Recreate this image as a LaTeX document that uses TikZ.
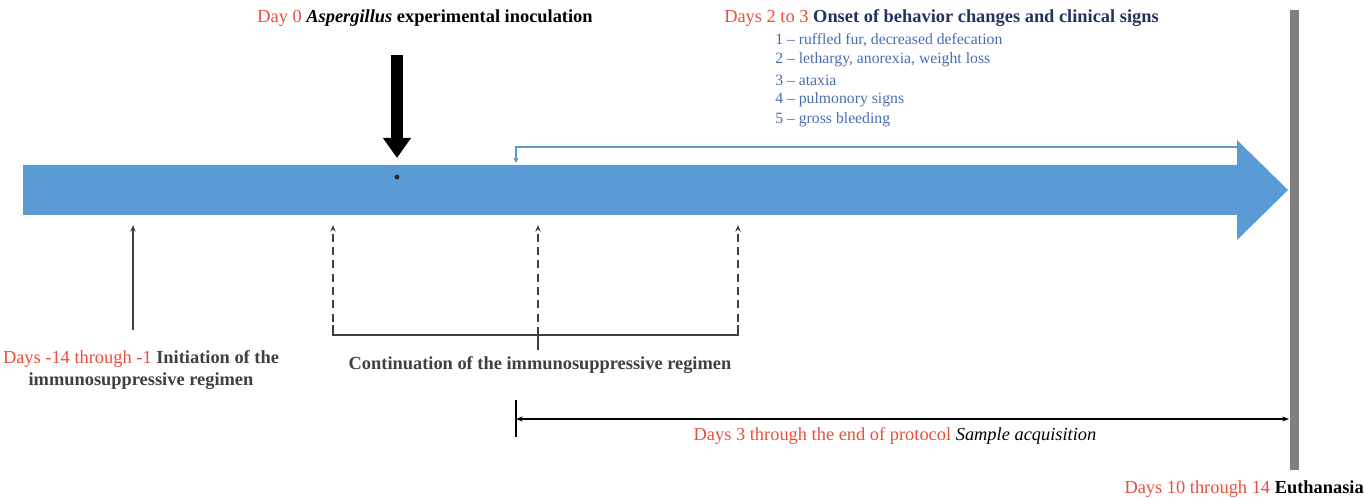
\documentclass[tikz,border=0pt]{standalone}
\usepackage{fontspec}
\setmainfont{Liberation Serif}
\usetikzlibrary{positioning, arrows.meta}

\definecolor{dayred}{HTML}{E8503A}
\definecolor{tlblue}{HTML}{5B9BD5}
\definecolor{signnavy}{HTML}{23325E}
\definecolor{signblue}{HTML}{4A6DB2}
\definecolor{regimen}{HTML}{404040}

\begin{document}
\begin{tikzpicture}[x=0.75pt, y=-0.75pt,
    lbl/.style={inner sep=0pt, font=\fontsize{13.8}{17}\selectfont\bfseries},
    sign/.style={inner sep=0pt, anchor=west, text=signblue, font=\fontsize{11.8}{13}\selectfont},
    dose/.style={-{Stealth[length=5pt,width=4pt]}, line width=1pt, regimen},
    dosedash/.style={dose, dash pattern=on 6pt off 4pt}]

\useasboundingbox (0,0) rectangle (1364,498);

% timeline and end of protocol
\fill[tlblue] (23,165) -- (1237,165) -- (1237,140) -- (1288,190) -- (1237,240)
    -- (1237,215) -- (23,215) -- cycle;
\fill[black!50] (1290,10) rectangle (1299,470);

% day 0
\node[lbl] (day0) at (425,18) {\textcolor{dayred}{\mdseries Day 0} \textit{Aspergillus} experimental inoculation};
\coordinate (inocTop) at (397,55);
\coordinate (inocTip) at (397,158);
\coordinate (inoc) at (397,177);
\draw[line width=9pt, -{Triangle[length=15pt,width=20pt]}] (inocTop) -- (inocTip);
\fill[black!85] (inoc) circle (1.8pt);

% onset of signs
\node[lbl, anchor=west] (onset) at (724,18) {\textcolor{dayred}{\mdseries Days 2 to 3} \textcolor{signnavy}{Onset of behavior changes and clinical signs}};
\foreach \i/\s in {1/{ruffled fur, decreased defecation}, 2/{lethargy, anorexia, weight loss},
    3/{ataxia}, 4/{pulmonory signs}, 5/{gross bleeding}}
    \node[sign] (sign\i) at (775,20+20*\i) {\i~-- \s};
\coordinate (onsetDay) at (516,163);
\coordinate (onsetTop) at (516,147);
\coordinate (onsetEnd) at (1240,147);
\draw[tlblue, line width=1.6pt, {Stealth[length=4pt,width=4pt]}-] (onsetDay) -- (onsetTop) -- (onsetEnd);

% immunosuppressive regimen
\coordinate (init) at (133,330);
\coordinate (initTip) at (133,225);
\draw[dose] (init) -- (initTip);
\node[lbl, align=center, text=regimen] (inittxt) at (141,370)
    {\textcolor{dayred}{\mdseries Days -14 through -1} Initiation of the\\immunosuppressive regimen};

\foreach \x [count=\k] in {333,538,738} {
    \coordinate (cont\k) at (\x,335);
    \coordinate (contTip\k) at (\x,225);
    \draw[dosedash] (cont\k) -- (contTip\k);
}
\draw[line width=1.2pt, regimen] (333,325) -- (cont1) -- (cont3) -- (738,325);
\coordinate (contMid) at (538,350);
\draw[line width=1.2pt, regimen] (cont2) -- (contMid);
\node[lbl, text=regimen] (conttxt) at (540,365) {Continuation of the immunosuppressive regimen};

% sample acquisition
\coordinate (sampStart) at (516,419);
\coordinate (sampEnd) at (1289,419);
\draw[line width=1.2pt] (516,400) -- (516,437);
\draw[line width=1.2pt, {Stealth[length=5pt]}-{Stealth[length=5pt]}] (sampStart) -- (sampEnd);
\node[lbl] (samptxt) at (895,436) {\textcolor{dayred}{\mdseries Days 3 through the end of protocol} \mdseries\itshape Sample acquisition};

% euthanasia
\node[lbl, anchor=east] (euth) at (1364,489) {\textcolor{dayred}{\mdseries Days 10 through 14} Euthanasia};
\end{tikzpicture}
\end{document}
